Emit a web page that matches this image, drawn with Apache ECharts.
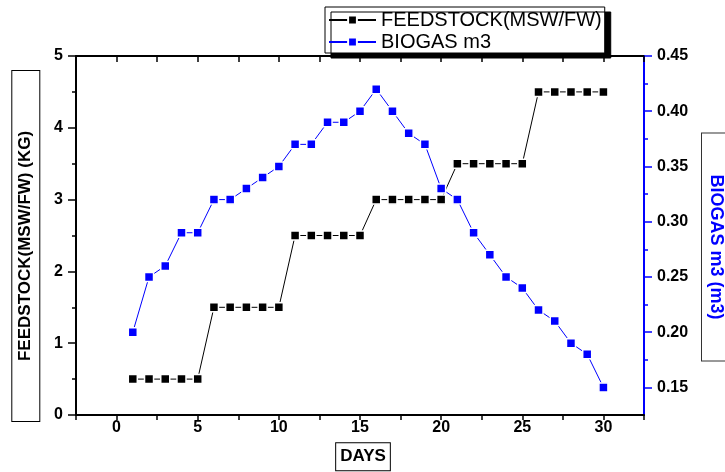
<!DOCTYPE html>
<html>
<head>
<meta charset="utf-8">
<script src="https://cdn.jsdelivr.net/npm/echarts@6/dist/echarts.min.js"></script>
<style>html,body{margin:0;padding:0;background:#fff}#c{width:725px;height:472px}</style>
</head>
<body>
<div id="c"></div>
<script>
var days = [1,2,3,4,5,6,7,8,9,10,11,12,13,14,15,16,17,18,19,20,21,22,23,24,25,26,27,28,29,30];
var feedstock = [0.5,0.5,0.5,0.5,0.5,1.5,1.5,1.5,1.5,1.5,2.5,2.5,2.5,2.5,2.5,3,3,3,3,3,3.5,3.5,3.5,3.5,3.5,4.5,4.5,4.5,4.5,4.5];
var biogas = [0.20,0.25,0.26,0.29,0.29,0.32,0.32,0.33,0.34,0.35,0.37,0.37,0.39,0.39,0.40,0.42,0.40,0.38,0.37,0.33,0.32,0.29,0.27,0.25,0.24,0.22,0.21,0.19,0.18,0.15];
var xLabels = [0,5,10,15,20,25,30];
var rightMajor = [0.15,0.20,0.25,0.30,0.35,0.40,0.45];
var rightMinor = [0.175,0.225,0.275,0.325,0.375,0.425];
var seriesNames = ['FEEDSTOCK(MSW/FW)','BIOGAS m3'];
var leftTitle = 'FEEDSTOCK(MSW/FW) (KG)';
var rightTitle = 'BIOGAS m3 (m3)';
var xTitle = 'DAYS';

var FONT = 'Liberation Sans, Arial, sans-serif';
var chart = echarts.init(document.getElementById('c'));
var lbl = {color:'#000', fontFamily:FONT, fontWeight:'bold', fontSize:16};
var G = {left:76, right:81, top:56, bottom:57};
chart.setOption({
  animation:false,
  backgroundColor:'#fff',
  grid:[G, Object.assign({}, G)],
  legend:{
    orient:'vertical', left:325, top:7,
    padding:[3,3,1,3], itemGap:2, itemWidth:47, itemHeight:11,
    backgroundColor:'#fff', borderColor:'#000', borderWidth:1,
    shadowColor:'#000', shadowBlur:0, shadowOffsetX:6, shadowOffsetY:5,
    textStyle:{fontFamily:FONT, fontSize:20, color:'#000', lineHeight:19},
    data:seriesNames
  },
  xAxis:[{
    type:'value', gridIndex:0, position:'bottom', min:-2.5, max:32.5, interval:2.5,
    axisLine:{show:true, onZero:false, lineStyle:{color:'#000', width:2}},
    axisTick:{show:true, inside:false, length:5, lineStyle:{color:'#000', width:1.5}},
    axisLabel:Object.assign({margin:5, customValues:xLabels}, lbl),
    splitLine:{show:false}
  },{
    type:'value', gridIndex:0, position:'top', min:-2.5, max:32.5, interval:2.5,
    axisLine:{show:true, onZero:false, lineStyle:{color:'#000', width:2}},
    axisTick:{show:true, inside:true, length:6, lineStyle:{color:'#000', width:1.5}},
    axisLabel:{show:false}, splitLine:{show:false}
  },{
    type:'value', gridIndex:1, show:false, min:-2.5, max:32.5
  }],
  yAxis:[{
    type:'value', gridIndex:0, position:'left', min:0, max:5, interval:1,
    axisLine:{show:true, onZero:false, lineStyle:{color:'#000', width:2}},
    axisTick:{show:true, length:8, lineStyle:{color:'#000', width:1.5}},
    minorTick:{show:true, splitNumber:2, length:4, lineStyle:{color:'#000', width:1.5}},
    axisLabel:Object.assign({margin:13}, lbl),
    splitLine:{show:false}
  },{
    type:'value', gridIndex:0, position:'right', min:0.125, max:0.45,
    axisLine:{show:true, onZero:false, lineStyle:{color:'#0000ff', width:2}},
    axisTick:{show:true, length:8, customValues:rightMajor, lineStyle:{color:'#0000ff', width:1.5}},
    axisLabel:Object.assign({margin:13, customValues:rightMajor, formatter:function(v){return v.toFixed(2);}}, lbl),
    splitLine:{show:false}
  },{
    type:'value', gridIndex:1, position:'right', min:0.125, max:0.45,
    axisLine:{show:false, onZero:false},
    axisTick:{show:true, length:4, customValues:rightMinor, lineStyle:{color:'#0000ff', width:1.5}},
    axisLabel:{show:false}, splitLine:{show:false}
  }],
  series:[{
    name:seriesNames[0], type:'line', xAxisIndex:0, yAxisIndex:0,
    data:days.map(function(d,i){return [d, feedstock[i]];}),
    symbol:'rect', symbolSize:9,
    lineStyle:{color:'#000', width:1},
    itemStyle:{color:'#000', borderColor:'#fff', borderWidth:1.5},
    z:3
  },{
    name:seriesNames[1], type:'line', xAxisIndex:0, yAxisIndex:1,
    data:days.map(function(d,i){return [d, biogas[i]];}),
    symbol:'rect', symbolSize:9,
    lineStyle:{color:'#0000ff', width:1},
    itemStyle:{color:'#0000ff', borderColor:'#fff', borderWidth:1.5},
    z:4
  }],
  graphic:[{
    type:'text', x:25.8, y:246, rotation:Math.PI/2,
    style:{text:leftTitle, font:'bold 17px ' + FONT, fill:'#000', align:'center', verticalAlign:'middle',
      lineHeight:17, backgroundColor:'#fff', borderColor:'#000', borderWidth:1, padding:[5,60,5,60]}
  },{
    type:'text', x:715.5, y:247, rotation:-Math.PI/2,
    style:{text:rightTitle, font:'bold 18px ' + FONT, fill:'#0000ff', align:'center', verticalAlign:'middle',
      lineHeight:18, backgroundColor:'#fff', borderColor:'#333', borderWidth:1, padding:[5,41,4,41]}
  },{
    type:'text', x:363, y:456.7,
    style:{text:xTitle, font:'bold 17px ' + FONT, fill:'#000', align:'center', verticalAlign:'middle',
      lineHeight:17, backgroundColor:'#fff', borderColor:'#000', borderWidth:1, padding:[5,4,5,4]}
  }]
});
</script>
</body>
</html>
